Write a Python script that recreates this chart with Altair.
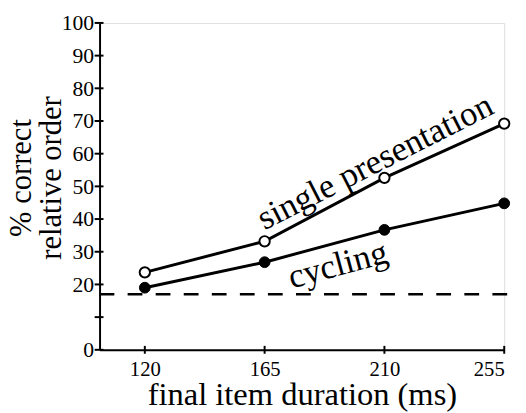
import altair as alt
import pandas as pd

durations = [120, 165, 210, 255]
single = [23.7, 33.2, 52.6, 69.2]
cycling = [19.0, 26.8, 36.7, 44.8]
chance = [17.0]
y_ticks = [0, 10, 20, 30, 40, 50, 60, 70, 80, 90, 100]
x_ticks = [120, 165, 210, 255]

labels = ["single presentation", "cycling"]
label_x = [206.5, 192.5]
label_y = [57.5, 26.0]
label_angle = [333, 345]

W, H = 411, 332
FONT = "Liberation Serif"

xs = alt.Scale(domain=[103, 255], nice=False, zero=False)
ys = alt.Scale(domain=[0, 100], nice=False)

X_AX = alt.Axis(values=x_ticks, title="final item duration (ms)")
Y_AX = alt.Axis(values=y_ticks, title=["% correct", "relative order"],
                labelExpr="datum.value == 10 ? '' : datum.label")

df = pd.DataFrame({"d": durations * 2,
                   "v": single + cycling,
                   "s": ["single"] * 4 + ["cycling"] * 4})
df_single = pd.DataFrame({"d": durations, "v": single})
df_cyc = pd.DataFrame({"d": durations, "v": cycling})

base = alt.Chart(df).mark_line(color="black", strokeWidth=3).encode(
    x=alt.X("d:Q", scale=xs, axis=X_AX),
    y=alt.Y("v:Q", scale=ys, axis=Y_AX),
    detail="s:N",
)

chance_rule = alt.Chart(pd.DataFrame({"v": chance})).mark_rule(
    color="black", strokeWidth=2.5, strokeDash=[15, 13.5], clip=False
).encode(y=alt.Y("v:Q", scale=ys, axis=Y_AX), x=alt.value(0), x2=alt.value(W + 20))

ytick = alt.Chart(pd.DataFrame({"v": y_ticks})).mark_rule(
    color="black", strokeWidth=2).encode(
    y=alt.Y("v:Q", scale=ys, axis=Y_AX), x=alt.value(-5), x2=alt.value(4))
xtick = alt.Chart(pd.DataFrame({"d": x_ticks})).mark_rule(
    color="black", strokeWidth=2).encode(
    x=alt.X("d:Q", scale=xs, axis=X_AX), y=alt.value(H - 4), y2=alt.value(H + 4))

pts_open = alt.Chart(df_single).mark_point(
    shape="circle", filled=True, fill="white", stroke="black",
    strokeWidth=2, size=110, opacity=1).encode(
    x=alt.X("d:Q", scale=xs, axis=X_AX), y=alt.Y("v:Q", scale=ys, axis=Y_AX))
pts_fill = alt.Chart(df_cyc).mark_point(
    shape="circle", filled=True, fill="black", stroke="black",
    strokeWidth=1, size=120, opacity=1).encode(
    x=alt.X("d:Q", scale=xs, axis=X_AX), y=alt.Y("v:Q", scale=ys, axis=Y_AX))

txt1 = alt.Chart(pd.DataFrame({"d": [label_x[0]], "v": [label_y[0]], "t": [labels[0]]})).mark_text(
    font=FONT, fontSize=35, angle=label_angle[0], color="black", baseline="middle", align="center"
).encode(x=alt.X("d:Q", scale=xs, axis=X_AX), y=alt.Y("v:Q", scale=ys, axis=Y_AX), text="t:N")
txt2 = alt.Chart(pd.DataFrame({"d": [label_x[1]], "v": [label_y[1]], "t": [labels[1]]})).mark_text(
    font=FONT, fontSize=35, angle=label_angle[1], color="black", baseline="middle", align="center"
).encode(x=alt.X("d:Q", scale=xs, axis=X_AX), y=alt.Y("v:Q", scale=ys, axis=Y_AX), text="t:N")

chart = alt.layer(base, chance_rule, ytick, xtick, pts_open, pts_fill, txt1, txt2).properties(
    width=W, height=H,
    autosize=alt.AutoSizeParams(type="none"),
    padding={"left": 93, "top": 12, "right": 14, "bottom": 60},
).configure_view(stroke=None).configure(background="white", font=FONT).configure_axis(
    ticks=False, grid=False, domainColor="black", domainWidth=2,
    labelFont=FONT, labelColor="black", labelOverlap=False,
    titleFont=FONT, titleColor="black", titleFontWeight="normal",
).configure_axisX(
    labelFontSize=21, labelPadding=9,
    titleFontSize=33, titleBaseline="alphabetic", titleY=56,
).configure_axisY(
    labelFontSize=22, labelPadding=6,
    titleFontSize=31, titleLineHeight=30, titleAngle=270, titleBaseline="bottom",
    titleX=-63, titleY=157, titleAlign="center",
)

chart.save("out.html", embed_options={"renderer": "svg", "actions": False})
